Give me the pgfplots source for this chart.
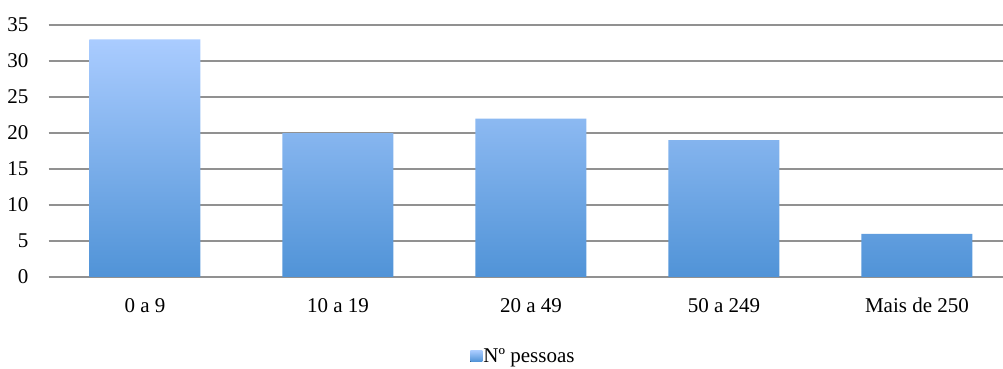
\documentclass[border=0pt]{standalone}
\usepackage{pgfplots}
\pgfplotsset{compat=1.18}
\usepackage{fontspec}
\setmainfont{Liberation Serif}

\definecolor{bartop}{RGB}{170,204,255}
\definecolor{barbot}{RGB}{80,147,215}
\definecolor{gridgray}{RGB}{145,145,145}

\begin{document}
\begin{tikzpicture}
\path[use as bounding box] (0,0) rectangle (1003bp,369bp);
\begin{axis}[
  at={(48.5bp,92bp)}, anchor=south west,
  scale only axis, width=954.5bp, height=252bp,
  xmin=-0.5, xmax=4.446, ymin=0, ymax=35,
  ytick={0,5,...,35},
  xtick={0,1,2,3,4},
  xticklabels={0 a 9, 10 a 19, 20 a 49, 50 a 249, Mais de 250},
  axis line style={draw=none},
  major tick length=0pt,
  ymajorgrids,
  grid style={gridgray, line width=1.6bp},
  /pgf/number format/assume math mode=true,
  yticklabel style={font=\fontsize{21bp}{24bp}\selectfont, anchor=east, inner sep=0pt, xshift=-20bp},
  xticklabel style={font=\fontsize{21bp}{24bp}\selectfont, anchor=base, inner sep=0pt, yshift=-35bp},
  legend style={draw=none, fill=none, at={(0.4971,-0.3135)}, anchor=center,
    font=\fontsize{21bp}{24bp}\selectfont, nodes={inner sep=1bp}},
  legend image code/.code={\fill[top color=bartop, bottom color=barbot] (0bp,-5.5bp) rectangle (12bp,5.5bp);},
]
\addplot[ybar, bar width=111bp, draw=none, top color=bartop, bottom color=barbot]
  coordinates {(0,33) (1,20) (2,22) (3,19) (4,6)};
\addlegendentry{Nº pessoas}
\end{axis}
\end{tikzpicture}
\end{document}
